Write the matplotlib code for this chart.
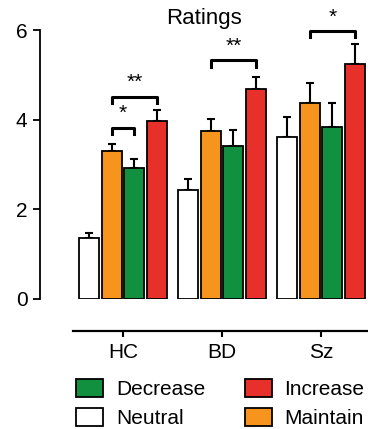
import numpy as np
import matplotlib.pyplot as plt

plt.rcParams['font.family'] = ['Liberation Sans', 'DejaVu Sans']

groups = ['HC', 'BD', 'Sz']
conditions = ['Neutral', 'Maintain', 'Decrease', 'Increase']
colors = ['white', '#f7941d', '#11913f', '#e8302a']

# mean ratings per condition, one entry per group
neutral = [1.35, 2.43, 3.62]
maintain = [3.30, 3.75, 4.38]
decrease = [2.92, 3.42, 3.84]
increase = [3.97, 4.69, 5.24]

# upper error (SEM)
neutral_err = [0.12, 0.24, 0.44]
maintain_err = [0.16, 0.27, 0.44]
decrease_err = [0.20, 0.35, 0.53]
increase_err = [0.25, 0.26, 0.44]

# significance brackets: (group, cond from, cond to, height, label)
sig = [(0, 1, 2, 3.82, '*'),
       (0, 1, 3, 4.51, '**'),
       (1, 1, 3, 5.32, '**'),
       (2, 1, 3, 5.98, '*')]

values = [neutral, maintain, decrease, increase]
errors = [neutral_err, maintain_err, decrease_err, increase_err]

fig = plt.figure(figsize=(3.68, 4.29), dpi=100)
ax = fig.add_axes([40 / 368, 130 / 429, 328 / 368, 269 / 429])

x = np.arange(len(groups))
step = 0.229
width = 0.2
offsets = (np.arange(4) - 1.5) * step

for i in range(4):
    ax.bar(x + offsets[i], values[i], width, color=colors[i], edgecolor='black',
           linewidth=1.3, label=conditions[i], zorder=2)
    ax.errorbar(x + offsets[i], values[i], yerr=[np.zeros(3), errors[i]], fmt='none',
                ecolor='black', elinewidth=1.5, capsize=3, capthick=1.5, zorder=1)

# brackets
for g, c1, c2, h, lab in sig:
    x1 = g + offsets[c1]
    x2 = g + offsets[c2]
    ax.plot([x1, x1, x2, x2], [h - 0.14, h, h, h - 0.14], color='black', lw=2.2,
            clip_on=False)
    ax.text((x1 + x2) / 2, h + 0.1, lab, ha='center', va='bottom', fontsize=15,
            clip_on=False)

ax.set_xlim(-0.838, 2.475)
ax.set_ylim(0, 6)
ax.set_yticks([0, 2, 4, 6])
ax.set_xticks(x)
ax.set_xticklabels(groups)
ax.tick_params(axis='y', labelsize=15, length=5, width=1.3, direction='out', pad=4)
ax.tick_params(axis='x', labelsize=15, length=4, width=1.5, direction='out', pad=5)

ax.spines['top'].set_visible(False)
ax.spines['right'].set_visible(False)
ax.spines['left'].set_linewidth(1.3)
ax.spines['bottom'].set_linewidth(1.6)
ax.spines['bottom'].set_position(('outward', 23))
ax.spines['bottom'].set_bounds(-0.505, 2.475)

ax.set_title('Ratings', fontsize=16, pad=4)

handles, labels = ax.get_legend_handles_labels()
order = [2, 0, 3, 1]
fig.legend([handles[k] for k in order], [labels[k] for k in order], ncol=2,
           loc='upper left', bbox_to_anchor=(72 / 368, 54 / 429), frameon=False,
           fontsize=15, handlelength=1.3, handleheight=0.95, columnspacing=1.9,
           labelspacing=0.4, handletextpad=0.6, borderpad=0.2, borderaxespad=0)

plt.savefig('out.png', dpi=100)
